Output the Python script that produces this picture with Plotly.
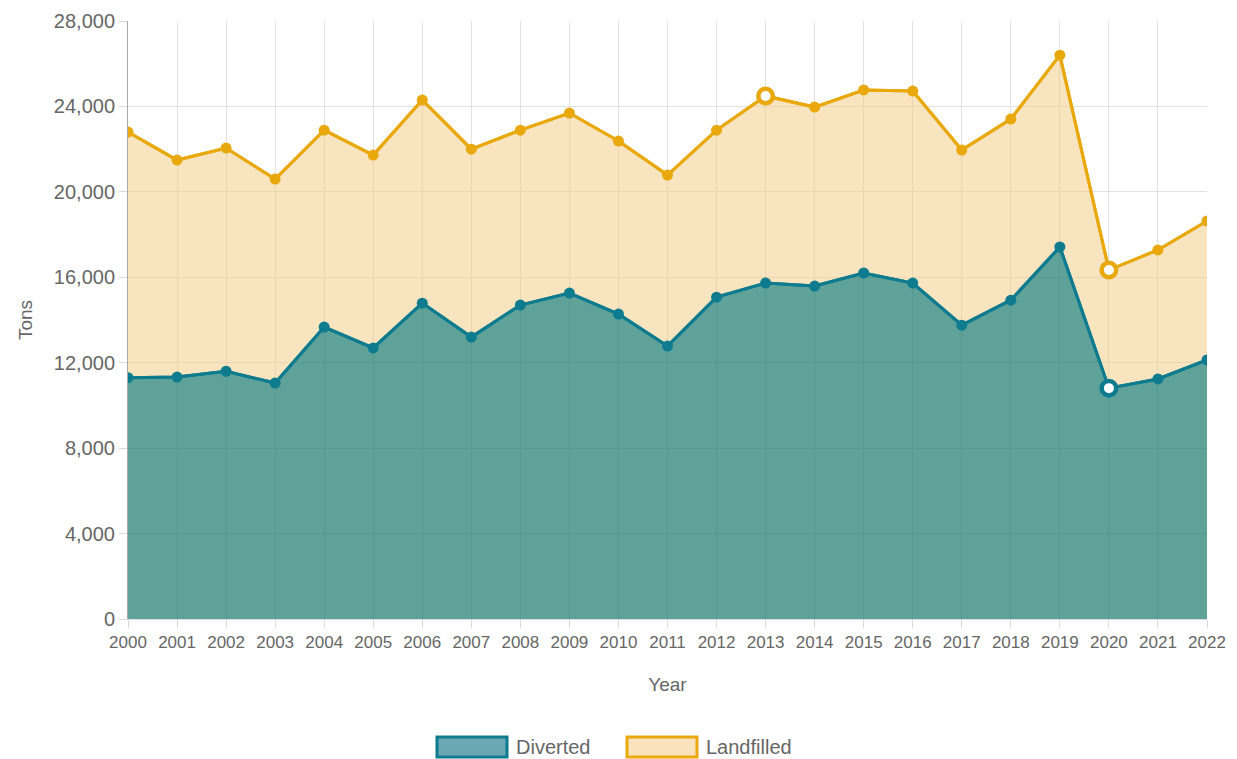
import plotly.graph_objects as go

years = list(range(2000, 2023))
diverted = [11300, 11330, 11600, 11050, 13670, 12690, 14790, 13200, 14700, 15260,
            14280, 12780, 15070, 15730, 15590, 16200, 15730, 13760, 14930, 17420,
            10810, 11240, 12130]
total = [22800, 21490, 22050, 20600, 22890, 21720, 24300, 22000, 22890, 23690,
         22380, 20790, 22890, 24490, 23970, 24770, 24720, 21960, 23410, 26400,
         16340, 17280, 18630]
hollow_diverted = [2020]
hollow_landfilled = [2013, 2020]

TEAL = "#0e7b8f"
GOLD = "#e9a80c"


def marker_style(color, hollow):
    flags = [y in hollow for y in years]
    return dict(
        color=["white" if f else color for f in flags],
        size=[14.5 if f else 11 for f in flags],
        line=dict(color=color, width=[4.5 if f else 0 for f in flags]),
        opacity=1,
    )


fig = go.Figure()
fig.add_trace(go.Scatter(
    x=years, y=diverted, name="Diverted", mode="lines",
    fill="tozeroy", fillcolor="rgba(26,122,111,0.7)",
    line=dict(color=TEAL, width=3), showlegend=False,
))
fig.add_trace(go.Scatter(
    x=years, y=total, name="Landfilled", mode="lines",
    fill="tonexty", fillcolor="rgba(241,201,125,0.5)",
    line=dict(color=GOLD, width=3), showlegend=False,
))
fig.add_trace(go.Scatter(
    x=years, y=diverted, mode="lines+markers", line=dict(color=TEAL, width=3),
    marker=marker_style(TEAL, hollow_diverted), showlegend=False,
))
fig.add_trace(go.Scatter(
    x=years, y=total, mode="lines+markers", line=dict(color=GOLD, width=3),
    marker=marker_style(GOLD, hollow_landfilled), showlegend=False,
))

# legend drawn as boxes + labels (Chart.js style)
legend_items = [("Diverted", "#6aa8b5", TEAL, 437), ("Landfilled", "#f8e3bd", GOLD, 627)]
for label, fill, border, px in legend_items:
    fig.add_shape(type="rect", xref="paper", yref="paper",
                  x0=(px - 128) / 1079, x1=(px + 70 - 128) / 1079,
                  y0=(619 - 757) / 598, y1=(619 - 737) / 598,
                  fillcolor=fill, line=dict(color=border, width=3))
    fig.add_annotation(xref="paper", yref="paper", x=(px + 77 - 128) / 1079,
                       y=(619 - 747) / 598, text=label, showarrow=False,
                       xanchor="left", yanchor="middle",
                       font=dict(size=20, color="#666"))

fig.update_layout(
    width=1229, height=751,
    plot_bgcolor="white", paper_bgcolor="white",
    font=dict(family="Liberation Sans, Arial, sans-serif", color="#666", size=17),
    margin=dict(l=120, r=30, t=13, b=140),
    showlegend=False,
    xaxis=dict(
        range=[2000, 2022], dtick=1, tick0=2000, showgrid=True, gridcolor="#e2e2e2",
        ticks="outside", ticklen=8, tickcolor="#dcdcdc", zeroline=False,
        showline=True, linecolor="#dcdcdc", automargin=False,
        title=dict(text="Year", font=dict(size=19), standoff=26),
        tickfont=dict(size=17),
    ),
    yaxis=dict(
        range=[0, 28000], dtick=4000, tickformat=",d", showgrid=True, gridcolor="#e2e2e2",
        ticks="outside", ticklen=8, tickcolor="#dcdcdc", zeroline=False,
        showline=True, linecolor="#aaa", linewidth=1, automargin=False,
        title=dict(text="Tons", font=dict(size=19), standoff=16),
        tickfont=dict(size=20),
    ),
)

fig.write_html("out.html")
